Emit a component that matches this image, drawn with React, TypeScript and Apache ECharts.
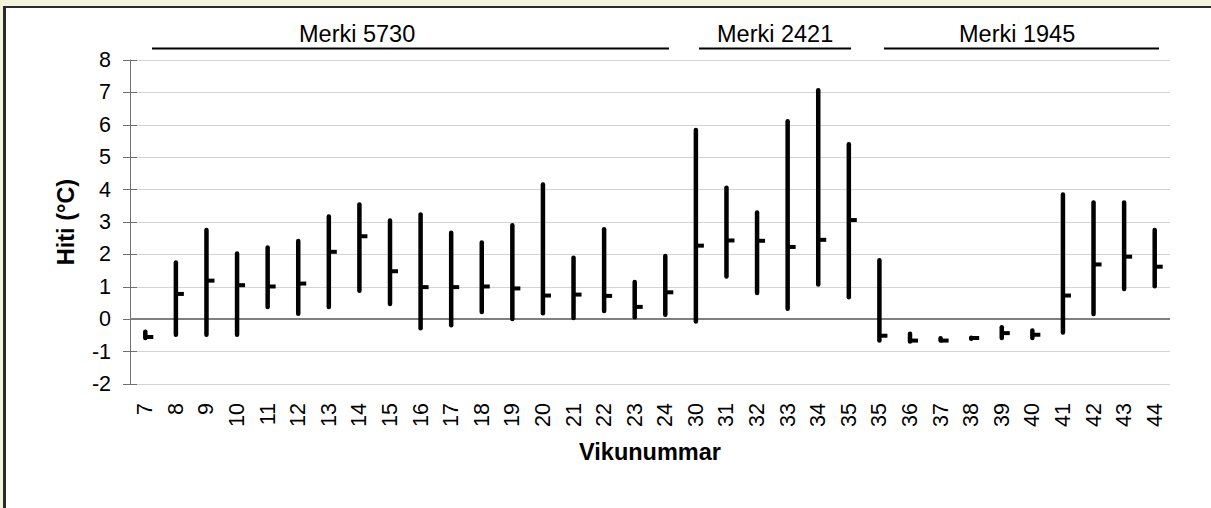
import React, { useEffect, useRef } from "react";
import * as echarts from "echarts";

const weeks = ["7","8","9","10","11","12","13","14","15","16","17","18","19","20","21","22","23","24","30","31","32","33","34","35","35","36","37","38","39","40","41","42","43","44"];
const highs = [-0.39,1.75,2.75,2.03,2.21,2.41,3.17,3.54,3.05,3.23,2.67,2.37,2.90,4.16,1.90,2.78,1.15,1.95,5.84,4.06,3.29,6.11,7.07,5.40,1.82,-0.45,-0.59,-0.57,-0.25,-0.35,3.85,3.60,3.60,2.75];
const lows = [-0.58,-0.48,-0.48,-0.48,0.38,0.17,0.38,0.88,0.47,-0.28,-0.19,0.22,0.01,0.18,0.04,0.25,0.06,0.14,-0.07,1.32,0.81,0.32,1.07,0.68,-0.66,-0.69,-0.66,-0.60,-0.58,-0.58,-0.41,0.16,0.93,1.02];
const closes = [-0.55,0.78,1.19,1.05,1.01,1.10,2.08,2.56,1.48,0.99,0.99,1.01,0.95,0.73,0.76,0.72,0.38,0.83,2.27,2.43,2.42,2.23,2.45,3.06,-0.51,-0.66,-0.66,-0.58,-0.43,-0.48,0.73,1.69,1.93,1.62];
const yTicks = { min: -2, max: 8, interval: 1 };
const groupNames = ["Merki 5730", "Merki 2421", "Merki 1945"];

const FONT = "'Liberation Sans', Arial, sans-serif";

export default function App() {
  const ref = useRef<HTMLDivElement>(null);
  useEffect(() => {
    if (!ref.current) return;
    const chart = echarts.init(ref.current, undefined, { renderer: "svg" });
    const data = weeks.map((_, i) => [i, lows[i], highs[i], closes[i]]);
    chart.setOption({
      animation: false,
      backgroundColor: "transparent",
      textStyle: { fontFamily: FONT },
      grid: { left: 130, top: 60, width: 1040, height: 324, containLabel: false },
      xAxis: {
        type: "category",
        data: weeks,
        boundaryGap: true,
        axisLine: { show: false },
        axisTick: { show: false },
        axisLabel: { interval: 0, rotate: 90, fontSize: 21.5, color: "#000", margin: 19, fontFamily: FONT },
        name: "Vikunummar",
        nameLocation: "middle",
        nameGap: 56,
        nameTextStyle: { fontSize: 23.5, fontWeight: "bold", color: "#000", fontFamily: FONT },
        splitLine: { show: false },
      },
      yAxis: [
        {
          type: "value",
          min: yTicks.min,
          max: yTicks.max,
          interval: yTicks.interval,
          position: "left",
          axisLine: { show: true, lineStyle: { color: "#707070", width: 1 } },
          axisTick: { show: true, inside: false, length: 7, lineStyle: { color: "#707070", width: 1 } },
          axisLabel: { fontSize: 21.5, color: "#000", margin: 19, fontFamily: FONT },
          splitLine: { show: true, lineStyle: { color: "#d4d4d4", width: 1.2 } },
          name: "Hiti (°C)",
          nameLocation: "middle",
          nameGap: 52,
          nameRotate: 90,
          nameTextStyle: { fontSize: 23.5, fontWeight: "bold", color: "#000", fontFamily: FONT },
        },
        {
          type: "value",
          min: yTicks.min,
          max: yTicks.max,
          interval: yTicks.interval,
          position: "left",
          axisLine: { show: false },
          axisTick: { show: true, inside: true, length: 7, lineStyle: { color: "#707070", width: 1 } },
          axisLabel: { show: false },
          splitLine: { show: false },
        },
      ],
      series: [
        {
          type: "custom",
          xAxisIndex: 0,
          yAxisIndex: 0,
          data,
          encode: { x: 0, y: [1, 2, 3] },
          renderItem: (params: any, api: any) => {
            const x = api.value(0);
            const lo = api.coord([x, api.value(1)]);
            const hi = api.coord([x, api.value(2)]);
            const cl = api.coord([x, api.value(3)]);
            return {
              type: "group",
              children: [
                { type: "line", shape: { x1: lo[0], y1: lo[1], x2: hi[0], y2: hi[1] }, style: { stroke: "#000", lineWidth: 4.5, lineCap: "round" } },
                { type: "line", shape: { x1: cl[0], y1: cl[1], x2: cl[0] + 8, y2: cl[1] }, style: { stroke: "#000", lineWidth: 4 } },
              ],
            };
          },
          markLine: {
            silent: true,
            symbol: ["none", "none"],
            label: { show: false },
            lineStyle: { color: "#808080", width: 2, type: "solid" },
            data: [{ yAxis: 0 }],
            z: 1,
          },
          z: 3,
        },
      ],
      graphic: [
        { type: "line", shape: { x1: 152, y1: 48.5, x2: 669, y2: 48.5 }, style: { stroke: "#000", lineWidth: 2 } },
        { type: "line", shape: { x1: 699, y1: 48.5, x2: 851, y2: 48.5 }, style: { stroke: "#000", lineWidth: 2 } },
        { type: "line", shape: { x1: 884, y1: 48.5, x2: 1159, y2: 48.5 }, style: { stroke: "#000", lineWidth: 2 } },
        { type: "text", x: 299, y: 46, style: { text: groupNames[0], fontSize: 23.5, fontFamily: FONT, fill: "#000", textVerticalAlign: "bottom", verticalAlign: "bottom" } },
        { type: "text", x: 717, y: 46, style: { text: groupNames[1], fontSize: 23.5, fontFamily: FONT, fill: "#000", textVerticalAlign: "bottom", verticalAlign: "bottom" } },
        { type: "text", x: 959, y: 46, style: { text: groupNames[2], fontSize: 23.5, fontFamily: FONT, fill: "#000", textVerticalAlign: "bottom", verticalAlign: "bottom" } },
      ],
    });
    return () => chart.dispose();
  }, []);

  return (
    <div style={{ position: "fixed", left: 0, top: 0, width: 1211, height: 508, background: "#f4f4dc", overflow: "hidden" }}>
      <div style={{ position: "absolute", left: 3, top: 6, width: 1300, height: 600, background: "#fff", borderLeft: "3px solid #2b2b2b", borderTop: "2px solid #2b2b2b" }} />
      <div ref={ref} style={{ position: "absolute", left: 0, top: 0, width: 1211, height: 508 }} />
    </div>
  );
}
